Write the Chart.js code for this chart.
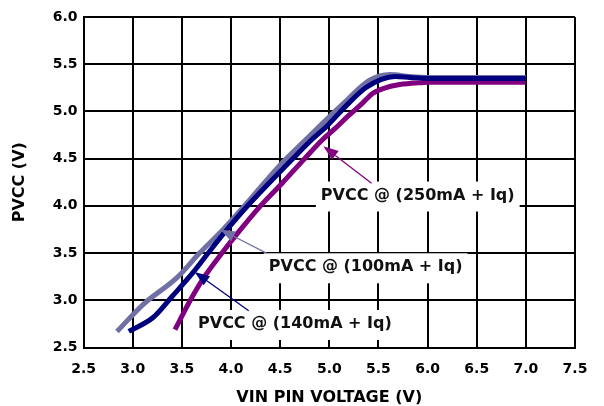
<!DOCTYPE html>
<html><head><meta charset="utf-8">
<script src="https://cdn.jsdelivr.net/npm/chart.js@4"></script>
<style>html,body{margin:0;padding:0;background:#fff}</style>
</head><body>
<canvas id="c" width="604" height="406"></canvas>
<script>
// ---- data ----
const xTickValues = [2.5, 3.0, 3.5, 4.0, 4.5, 5.0, 5.5, 6.0, 6.5, 7.0, 7.5];
const yTickValues = [2.5, 3.0, 3.5, 4.0, 4.5, 5.0, 5.5, 6.0];

const seriesNames = ['PVCC @ (140mA + Iq)', 'PVCC @ (100mA + Iq)', 'PVCC @ (250mA + Iq)'];

const vin140  = [2.96, 3.21, 3.40, 3.61, 3.79, 3.96, 4.16, 4.62, 4.82, 4.98, 5.19, 5.37, 5.53, 5.67, 5.82, 6.02, 6.50, 7.00];
const pvcc140 = [2.67, 2.82, 3.04, 3.29, 3.53, 3.75, 3.99, 4.49, 4.70, 4.85, 5.08, 5.25, 5.34, 5.37, 5.36, 5.35, 5.35, 5.35];

const vin100  = [2.84, 3.11, 3.45, 3.68, 3.92, 4.12, 4.48, 4.78, 5.15, 5.41, 5.62, 5.82, 6.02, 6.50, 7.00];
const pvcc100 = [2.67, 2.96, 3.24, 3.50, 3.75, 3.98, 4.41, 4.72, 5.09, 5.33, 5.39, 5.37, 5.36, 5.36, 5.36];

const vin250  = [3.43, 3.48, 3.58, 3.73, 3.90, 4.09, 4.30, 4.52, 4.74, 4.93, 5.06, 5.19, 5.33, 5.44, 5.57, 5.69, 5.87, 6.02, 6.53, 7.00];
const pvcc250 = [2.69, 2.79, 2.99, 3.25, 3.49, 3.74, 4.00, 4.24, 4.49, 4.70, 4.82, 4.95, 5.08, 5.19, 5.25, 5.28, 5.30, 5.31, 5.31, 5.31];

const xTitle = 'VIN PIN VOLTAGE (V)';
const yTitle = 'PVCC (V)';

// ---- build ----
const pts = (xs, ys) => xs.map((x, i) => ({x, y: ys[i]}));
const NAVY = '#00007f', SLATE = '#7070a4', PURPLE = '#800080';

const notes = [
  {text: seriesNames[2], at: [5.90, 4.12], tail: [5.43, 4.24], tip: [4.94, 4.63], color: PURPLE},
  {text: seriesNames[1], at: [5.37, 3.36], tail: [4.36, 3.50], tip: [3.89, 3.75], color: SLATE},
  {text: seriesNames[0], at: [4.65, 2.76], tail: [4.18, 2.89], tip: [3.63, 3.30], color: NAVY}
];
const NOTE_FONT = 'bold 16px "DejaVu Sans"';

const notesPlugin = {
  id: 'notes',
  beforeDatasetsDraw(chart) {
    const {ctx, scales: {x, y}} = chart;
    ctx.save();
    ctx.font = NOTE_FONT;
    ctx.fillStyle = '#fff';
    notes.forEach(n => {
      const cx = x.getPixelForValue(n.at[0]), cy = y.getPixelForValue(n.at[1]);
      const w = ctx.measureText(n.text).width + 10;
      ctx.fillRect(cx - w / 2, cy - 13, w, 30);
    });
    ctx.restore();
  },
  afterDatasetsDraw(chart) {
    const {ctx, scales: {x, y}} = chart;
    ctx.save();
    notes.forEach(n => {
      const tx = x.getPixelForValue(n.tail[0]), ty = y.getPixelForValue(n.tail[1]);
      const px = x.getPixelForValue(n.tip[0]), py = y.getPixelForValue(n.tip[1]);
      const ang = Math.atan2(py - ty, px - tx);
      const L = 15, H = 5.5;
      const bx = px - L * Math.cos(ang), by = py - L * Math.sin(ang);
      ctx.strokeStyle = n.color; ctx.fillStyle = n.color; ctx.lineWidth = 1.3;
      ctx.beginPath(); ctx.moveTo(tx, ty); ctx.lineTo(bx, by); ctx.stroke();
      ctx.beginPath();
      ctx.moveTo(px, py);
      ctx.lineTo(bx + H * Math.sin(ang), by - H * Math.cos(ang));
      ctx.lineTo(bx - H * Math.sin(ang), by + H * Math.cos(ang));
      ctx.closePath(); ctx.fill();
      ctx.font = NOTE_FONT; ctx.fillStyle = '#111';
      ctx.textAlign = 'center'; ctx.textBaseline = 'middle';
      ctx.fillText(n.text, x.getPixelForValue(n.at[0]), y.getPixelForValue(n.at[1]) + 1);
    });
    ctx.restore();
  }
};

const lineDs = (label, xs, ys, color) => ({
  label, data: pts(xs, ys), borderColor: color, backgroundColor: color,
  borderWidth: 5, pointRadius: 0, cubicInterpolationMode: 'monotone', fill: false, borderCapStyle: 'butt'
});

new Chart(document.getElementById('c'), {
  type: 'line',
  data: {
    datasets: [
      lineDs(seriesNames[0], vin140, pvcc140, NAVY),
      lineDs(seriesNames[1], vin100, pvcc100, SLATE),
      lineDs(seriesNames[2], vin250, pvcc250, PURPLE)
    ]
  },
  options: {
    responsive: false, animation: false, devicePixelRatio: 1,
    layout: {padding: {top: 17, right: 29, left: 0, bottom: 0}},
    plugins: {legend: {display: false}, tooltip: {enabled: false}},
    scales: {
      x: {
        type: 'linear', min: xTickValues[0], max: xTickValues[xTickValues.length - 1],
        afterBuildTicks: s => { s.ticks = xTickValues.map(v => ({value: v})); },
        afterFit: s => { s.height = 58.5; },
        grid: {color: '#000', lineWidth: 2, drawTicks: false},
        border: {color: '#000', width: 2},
        ticks: {color: '#000', font: {family: 'DejaVu Sans', size: 14, weight: 'bold'}, padding: 13,
                maxRotation: 0, callback: v => v.toFixed(1)},
        title: {display: true, text: xTitle, color: '#000',
                font: {family: 'DejaVu Sans', size: 16, weight: 'bold'}, padding: {top: 0, bottom: -1}}
      },
      y: {
        type: 'linear', min: yTickValues[0], max: yTickValues[yTickValues.length - 1],
        afterBuildTicks: s => { s.ticks = yTickValues.map(v => ({value: v})); },
        afterFit: s => { s.width = 83.6; },
        grid: {color: '#000', lineWidth: 2, drawTicks: false},
        border: {color: '#000', width: 2},
        ticks: {color: '#000', font: {family: 'DejaVu Sans', size: 14, weight: 'bold'}, padding: 6,
                callback: v => v.toFixed(1)},
        title: {display: true, text: yTitle, color: '#000',
                font: {family: 'DejaVu Sans', size: 16, weight: 'bold'}, padding: {top: 10, bottom: 0}}
      }
    }
  },
  plugins: [notesPlugin]
});
</script>
</body></html>
